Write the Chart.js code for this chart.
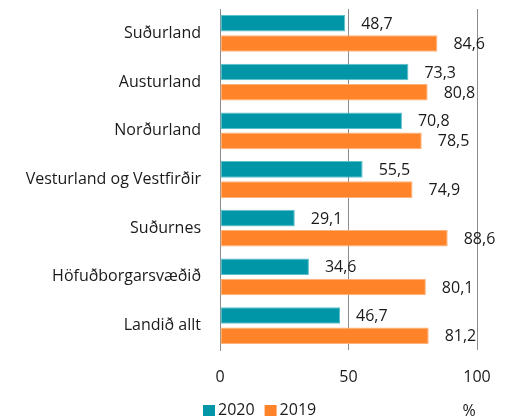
<!DOCTYPE html>
<html><head><meta charset="utf-8">
<script src="https://cdn.jsdelivr.net/npm/chart.js@4"></script>
<style>html,body{margin:0;padding:0;background:#fff}</style>
</head><body>
<canvas id="c" width="509" height="417"></canvas>
<script>
const categories = ['Suðurland','Austurland','Norðurland','Vesturland og Vestfirðir','Suðurnes','Höfuðborgarsvæðið','Landið allt'];
const values2020 = [48.7,73.3,70.8,55.5,29.1,34.6,46.7];
const values2019 = [84.6,80.8,78.5,74.9,88.6,80.1,81.2];
const seriesNames = ['2020','2019'];
const xTicks = [0,50,100];
const unitLabel = '%';

const FONT = '"Open Sans", Lato, sans-serif';
const TEAL = '#0096A8', ORANGE = '#FF8329';
const TXT = '#1a1a1a';

const fmt = v => v.toFixed(1).replace('.', ',');

const labelsPlugin = {
  id: 'valueLabels',
  afterDatasetsDraw(chart) {
    const ctx = chart.ctx;
    ctx.save();
    ctx.font = '16px ' + FONT;
    ctx.fillStyle = TXT;
    ctx.textAlign = 'left';
    ctx.textBaseline = 'middle';
    chart.data.datasets.forEach((ds, di) => {
      chart.getDatasetMeta(di).data.forEach((bar, i) => {
        ctx.fillText(fmt(ds.data[i]), bar.x + 16, bar.y + 1);
      });
    });
    ctx.restore();
  },
  afterDraw(chart) {
    const ctx = chart.ctx;
    const xs = chart.scales.x;
    const ly = 410;
    ctx.save();
    ctx.font = '16px ' + FONT;
    ctx.textBaseline = 'middle';
    let x = 203;
    chart.data.datasets.forEach((ds, di) => {
      ctx.fillStyle = ds.backgroundColor;
      ctx.fillRect(x, ly - 5, 12, 11);
      ctx.fillStyle = TXT;
      ctx.textAlign = 'left';
      ctx.fillText(ds.label, x + 15, ly);
      x += 15 + ctx.measureText(ds.label).width + 10;
    });
    ctx.textAlign = 'center';
    ctx.fillText(unitLabel, xs.getPixelForValue(xTicks[xTicks.length-1]) - 8, ly + 1);
    ctx.restore();
  }
};

new Chart(document.getElementById('c'), {
  type: 'bar',
  data: {
    labels: categories,
    datasets: [
      {label: seriesNames[0], data: values2020, backgroundColor: TEAL, borderColor: '#5cc0cc', borderWidth: 1, borderSkipped: false},
      {label: seriesNames[1], data: values2019, backgroundColor: ORANGE, borderColor: '#ffb27a', borderWidth: 1, borderSkipped: false}
    ]
  },
  options: {
    indexAxis: 'y',
    responsive: false,
    devicePixelRatio: 1,
    animation: false,
    categoryPercentage: 0.83,
    barPercentage: 0.82,
    layout: {padding: {left: 0, right: 32, top: 9, bottom: 0}},
    plugins: {legend: {display: false}, tooltip: {enabled: false}},
    scales: {
      x: {
        min: 0, max: 100,
        afterBuildTicks: s => { s.ticks = xTicks.map(v => ({value: v})); },
        afterFit: s => { s.height = 67; s.paddingLeft = 0; s.paddingRight = 0; },
        grid: {color: '#8c8c8c', lineWidth: 1, drawTicks: false},
        border: {display: false},
        ticks: {font: {family: FONT, size: 16}, color: TXT, padding: 18}
      },
      y: {
        afterFit: s => { s.width = 220; s.paddingTop = 0; s.paddingBottom = 0; },
        grid: {display: false, drawTicks: false},
        border: {display: true, color: '#8c8c8c', width: 1},
        ticks: {font: {family: FONT, size: 16}, color: TXT, padding: 19}
      }
    }
  },
  plugins: [labelsPlugin]
});
</script>
</body></html>
